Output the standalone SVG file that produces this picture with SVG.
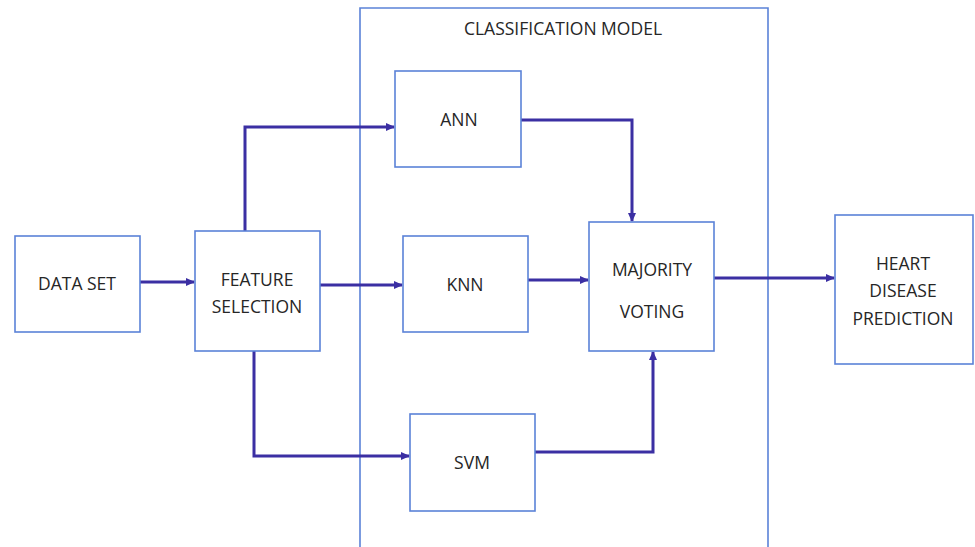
<svg xmlns="http://www.w3.org/2000/svg" width="975" height="547" viewBox="0 0 975 547">
<style>
.box{fill:#fff;stroke:#5b82d8;stroke-width:1.6}
.cont{fill:none;stroke:#5b82d8;stroke-width:1.6}
.lbl{font-family:"Open Sans","Liberation Sans",sans-serif;font-size:17.5px;fill:#262626;text-anchor:middle}
.conn{fill:none;stroke:#3b2fa3;stroke-width:3}
</style>
<defs>
<marker id="ah" markerWidth="10" markerHeight="10" refX="8" refY="5" orient="auto" markerUnits="userSpaceOnUse">
<path d="M0,1 L9,5 L0,9 Z" fill="#3b2fa3"/>
</marker>
</defs>
<rect width="975" height="547" fill="#fff"/>
<g id="classification-model">
<path class="cont" d="M360,547 L360,8 L768,8 L768,547"/>
<text class="lbl" x="563" y="35">CLASSIFICATION MODEL</text>
</g>
<g id="connectors">
<path class="conn" d="M140,282 L194,282" marker-end="url(#ah)"/>
<path class="conn" d="M245,231 L245,127 L394,127" marker-end="url(#ah)"/>
<path class="conn" d="M320,285 L402,285" marker-end="url(#ah)"/>
<path class="conn" d="M254,351 L254,456 L409,456" marker-end="url(#ah)"/>
<path class="conn" d="M521,120 L632,120 L632,221" marker-end="url(#ah)"/>
<path class="conn" d="M528,280 L588,280" marker-end="url(#ah)"/>
<path class="conn" d="M535,452 L653,452 L653,352" marker-end="url(#ah)"/>
<path class="conn" d="M714,278 L834,278" marker-end="url(#ah)"/>
</g>
<g id="data-set">
<rect class="box" x="15" y="236" width="125" height="96"/>
<text class="lbl" x="77" y="290">DATA SET</text>
</g>
<g id="feature-selection">
<rect class="box" x="195" y="231" width="125" height="120"/>
<text class="lbl" x="257" y="286">FEATURE</text>
<text class="lbl" x="257" y="313">SELECTION</text>
</g>
<g id="ann">
<rect class="box" x="395" y="71" width="126" height="96"/>
<text class="lbl" x="459" y="126">ANN</text>
</g>
<g id="knn">
<rect class="box" x="403" y="236" width="125" height="96"/>
<text class="lbl" x="465" y="291">KNN</text>
</g>
<g id="svm">
<rect class="box" x="410" y="414" width="125" height="97"/>
<text class="lbl" x="472" y="469">SVM</text>
</g>
<g id="majority-voting">
<rect class="box" x="589" y="222" width="125" height="129"/>
<text class="lbl" x="652" y="276">MAJORITY</text>
<text class="lbl" x="652" y="318">VOTING</text>
</g>
<g id="heart-disease-prediction">
<rect class="box" x="835" y="215" width="138" height="149"/>
<text class="lbl" x="903" y="270">HEART</text>
<text class="lbl" x="903" y="297">DISEASE</text>
<text class="lbl" x="903" y="325">PREDICTION</text>
</g>
</svg>
